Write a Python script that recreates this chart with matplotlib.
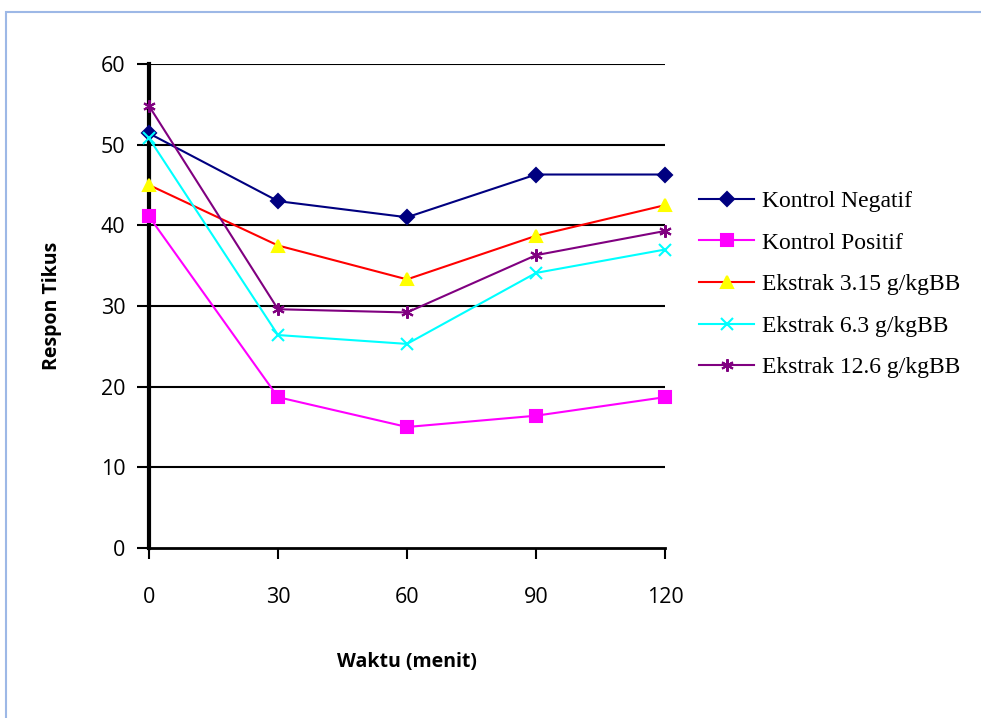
import numpy as np
import matplotlib.pyplot as plt
from matplotlib.patches import Rectangle
from matplotlib.lines import Line2D

# Datos
waktu = [0, 30, 60, 90, 120]
kontrol_negatif = [51.4, 43.0, 41.0, 46.3, 46.3]
kontrol_positif = [41.1, 18.7, 15.0, 16.4, 18.7]
ekstrak_315 = [45.0, 37.5, 33.3, 38.7, 42.5]
ekstrak_63 = [50.8, 26.4, 25.3, 34.1, 37.0]
ekstrak_126 = [54.8, 29.6, 29.2, 36.3, 39.3]
y_ticks = [0, 10, 20, 30, 40, 50, 60]

fig = plt.figure(figsize=(9.81, 7.18), dpi=100)
ax = fig.add_axes([149/981, 1 - 548/718, (665 - 149)/981, (548 - 64)/718])

# borde azul claro del gráfico
fig.patches.append(Rectangle((6/981, -0.1), 1.2, 1.1 - 12/718, transform=fig.transFigure,
                             fill=False, edgecolor='#9db8e6', linewidth=1.5, zorder=0))

for y in y_ticks[1:]:
    ax.axhline(y, color='black', linewidth=1.5, zorder=1)

series = [
    (kontrol_negatif, '#000080', 'D', '#000080', 7, 'Kontrol Negatif'),
    (kontrol_positif, '#ff00ff', 's', '#ff00ff', 8, 'Kontrol Positif'),
    (ekstrak_315, '#ff0000', '^', '#ffff00', 9, 'Ekstrak 3.15 g/kgBB'),
    (ekstrak_63, '#00ffff', 'x', '#00ffff', 8, 'Ekstrak 6.3 g/kgBB'),
    (ekstrak_126, '#800080', (6, 2, 0), '#800080', 9, 'Ekstrak 12.6 g/kgBB'),
]
handles = []
for vals, color, marker, mfc, ms, label in series:
    ax.plot(waktu, vals, color=color, linewidth=1.5, marker=marker, markersize=ms,
            markerfacecolor=mfc, markeredgecolor=mfc, markeredgewidth=1.5, zorder=3, clip_on=False)
    handles.append(Line2D([0], [0], color=color, linewidth=1.5, marker=marker, markersize=ms,
                          markerfacecolor=mfc, markeredgecolor=mfc, markeredgewidth=1.5))

ax.set_xlim(0, 120)
ax.set_ylim(0, 60)
ax.set_xticks(waktu)
ax.set_yticks(y_ticks)
for s in ['top', 'right']:
    ax.spines[s].set_visible(False)
ax.spines['left'].set_linewidth(3)
ax.spines['bottom'].set_linewidth(2)
ax.tick_params(axis='y', direction='out', length=9, width=1.5, labelsize=15.5, pad=8)
ax.tick_params(axis='x', direction='out', length=8, width=1.5, labelsize=15.5, pad=20)
for t in ax.get_xticklabels() + ax.get_yticklabels():
    t.set_fontfamily('Open Sans')

ax.set_xlabel('Waktu (menit)', fontsize=14, fontweight='bold', fontfamily='Open Sans', labelpad=32)
ax.set_ylabel('Respon Tikus', fontsize=14, fontweight='bold', fontfamily='Open Sans', labelpad=28)

fig.legend(handles, [s[5] for s in series], loc='upper left', bbox_to_anchor=(690/981, 1 - 181/718),
           frameon=False, prop={'family': 'Liberation Serif', 'size': 17},
           handlelength=2.3, labelspacing=0.85, handletextpad=0.35, borderaxespad=0)

fig.savefig('out.png', dpi=100)
